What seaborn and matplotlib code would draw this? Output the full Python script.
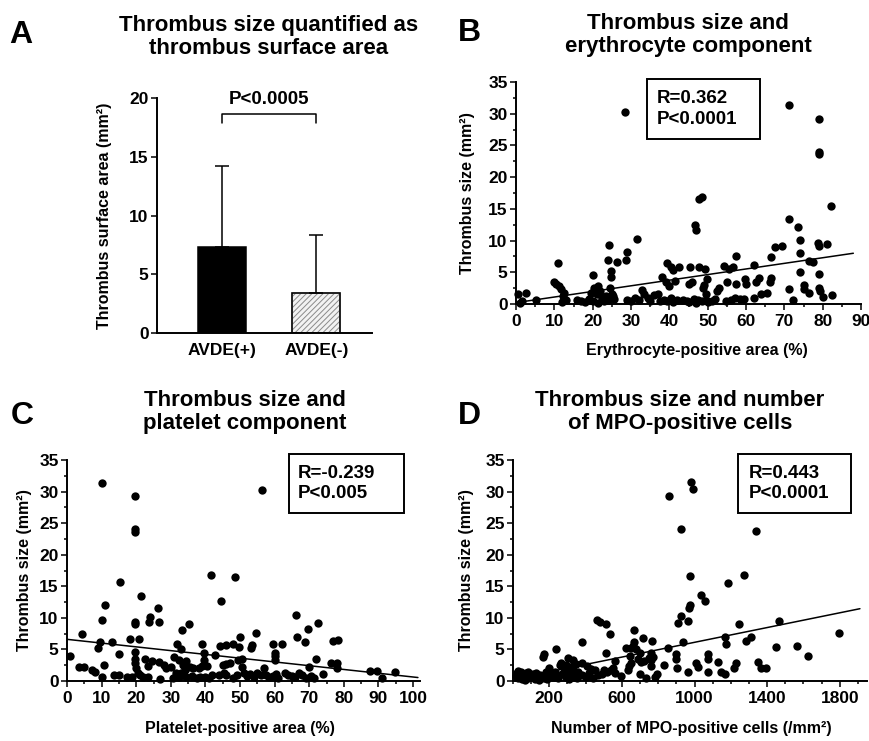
import numpy as np
import pandas as pd
import matplotlib
matplotlib.use('Agg')
import matplotlib.pyplot as plt
import seaborn as sns
from matplotlib.ticker import MultipleLocator, FixedLocator
from matplotlib.patches import Rectangle

# ---------------- dados ----------------
# Painel A: media e DP (somente barra superior)
a_groups = ['AVDE(+)', 'AVDE(-)']
a_means = [7.3, 3.4]
a_sd = [6.9, 4.9]
a_pvalue = 'P<0.0005'

# Painel B: area eritrocitaria (%) x tamanho do trombo (mm2)
b_x = [28.4, 71.3, 79, 79, 79, 82.3, 47.8, 48.5, 46.6, 46.9, 71.3, 73.5, 74, 74, 74, 78.9, 79, 81.2,
       67.5, 69.3, 66.5, 57.5, 31.5, 24.3, 29, 28.8, 26.4, 24, 24.7, 24.8, 11, 10, 20,
       0.5, 2.5, 1.5, 5.3, 1, 11.2, 11.8, 12.5, 12.3, 12, 13, 10.5,
       16, 17, 18, 19, 19.5, 20.3, 20.8, 21.5, 22, 21, 22.5, 23, 23.5, 24.5, 25, 25.5, 20, 21.5, 24, 25.3,
       29, 30, 31, 32, 32.8, 33.5, 34.5, 36, 37, 35, 38.5, 37.5,
       38, 39, 39.5, 40.5, 41, 42.5, 40, 41.5, 40.5, 42, 43.5, 44.5, 45, 39.5, 41,
       45.4, 47.8, 45.2, 46, 46.5, 47, 47.5, 48.5,
       49.2, 49.8, 49, 48.8, 49.5, 49.5, 50, 51, 52,
       53, 52.5, 54.3, 55.5, 56.5, 57.5, 55, 54.8, 56, 57, 58.5, 59.5,
       59.8, 60, 62, 62.5, 63.5, 62, 64, 65.5, 66.3, 66.5,
       71.2, 72.2, 75, 75, 76.5, 76.5, 77.5, 79, 79, 79.2, 80, 82.5]
b_y = [30.2, 31.3, 29.2, 24.0, 23.6, 15.5, 16.6, 16.8, 12.5, 11.6, 13.4, 12.2, 10.1, 8.0, 5.1, 9.6, 9.1, 9.4,
       9.0, 9.2, 7.4, 7.6, 10.3, 9.3, 8.2, 7.0, 6.6, 7.0, 5.2, 4.2, 6.4, 3.5, 4.5,
       1.5, 1.7, 0.4, 0.6, 0.2, 2.8, 2.3, 1.8, 1.2, 0.3, 0.6, 3.2,
       0.7, 0.5, 0.3, 0.8, 1.8, 2.5, 2.2, 2.8, 2.0, 1.5, 1.0, 0.5, 1.3, 2.5, 1.5, 0.8, 0.4, 0.2, 0.6, 1.2,
       0.6, 0.4, 0.9, 0.6, 2.2, 1.6, 1.0, 1.4, 1.6, 0.5, 0.7, 0.4,
       4.3, 3.4, 6.4, 5.8, 5.3, 5.8, 2.8, 3.6, 1.0, 0.6, 0.7, 0.4, 0.3, 0.5, 0.3,
       5.8, 5.8, 3.1, 3.5, 0.8, 0.2, 0.6, 0.5,
       5.5, 3.9, 3.0, 2.5, 1.6, 0.7, 0.3, 0.5, 0.8,
       2.6, 2.0, 6.0, 5.5, 5.8, 3.1, 3.5, 0.5, 0.6, 0.9, 0.8, 0.8,
       4.0, 3.2, 6.1, 3.5, 4.1, 1.0, 1.5, 1.8, 3.5, 4.1,
       2.4, 0.6, 3.0, 2.3, 1.7, 6.8, 6.6, 4.7, 2.6, 2.0, 1.1, 1.4]
b_fit_x = [0.4, 88]
b_fit_y = [0.25, 8.0]
b_stats = 'R=0.362\nP<0.0001'

# Painel C: area plaquetaria (%) x tamanho do trombo (mm2)
c_x = [10.1, 19.7, 19.7, 19.7, 56.3, 41.5, 48.4, 15.4, 44.6, 21.4, 10.9, 26.4, 10.1, 24, 23.6, 26.7, 19.7, 19.7,
       35.2, 66.2, 69.5, 72.6, 66.6, 68.8, 4.3, 33.2, 39.1, 18.1, 20.7, 13, 9.4, 9.1, 0.8, 15, 19.7, 19.7, 19.7,
       20, 22.5, 24.5, 23.5, 26.5, 28, 28.5, 30, 31.9, 33, 31, 32.5, 33.5, 34, 35.5, 34.5, 42.8, 39.5, 39.5,
       39, 40.5, 44.2, 45.9, 48, 49.7, 50, 54.5, 53.4, 53.1, 59.4, 62, 60.2, 60.2, 60.2, 71.9, 76.9, 78.3,
       76.3, 78, 78, 74, 87.5, 89.6, 91, 94.8, 3.4, 4.8, 7.2, 8.2, 10, 10.8, 13.5, 14.9, 17.3, 18.8, 23.4,
       45, 46, 47, 45.5, 44, 46, 48, 49, 49.5, 50.5, 50.5, 51, 52, 53, 54, 55, 56, 57, 57.5, 58.5, 59.5,
       60.5, 61, 63, 64, 65, 66, 67, 68, 69, 70, 70.5, 71.5, 30.5, 31.5, 32.5, 33, 34.5, 36, 37.5, 38.5,
       40, 41, 42, 27, 36.5, 38, 21, 22, 20.5]
c_y = [31.4, 29.3, 24.1, 23.6, 30.3, 16.8, 16.5, 15.6, 12.6, 13.5, 12.1, 11.5, 9.7, 10.2, 9.3, 9.4, 9.4, 9.0,
       9.1, 10.4, 8.2, 9.2, 7.0, 6.2, 7.4, 8.1, 5.8, 6.6, 6.6, 6.1, 6.2, 5.2, 4.0, 4.3, 4.6, 3.5, 2.8,
       2.0, 3.5, 3.2, 2.4, 3.0, 2.6, 2.0, 2.2, 5.9, 5.0, 3.8, 3.3, 2.6, 1.8, 2.2, 3.2, 4.1, 4.4, 3.4,
       2.3, 2.3, 5.6, 5.7, 5.8, 5.4, 7.0, 7.6, 5.7, 5.2, 5.8, 5.8, 4.4, 3.9, 3.3, 3.5, 6.3, 6.5,
       2.9, 2.8, 2.1, 1.1, 1.6, 1.6, 0.4, 1.4, 2.2, 2.2, 1.7, 1.5, 0.6, 2.5, 1.0, 1.0, 0.6, 0.6, 0.6,
       2.6, 2.7, 2.8, 1.2, 1.0, 0.9, 0.5, 1.0, 3.4, 3.5, 2.2, 1.3, 0.8, 1.1, 0.6, 1.3, 0.9, 2.1, 1.0, 0.6, 0.8,
       1.1, 0.5, 1.3, 1.0, 0.8, 0.6, 1.3, 0.9, 0.5, 2.2, 0.8, 0.4, 0.4, 1.2, 0.6, 1.3, 0.6, 0.8, 0.5, 0.7,
       0.6, 0.4, 1.0, 0.3, 2.0, 2.1, 1.0, 0.7, 1.3]
c_fit_x = [0, 101.4]
c_fit_y = [6.6, 0.55]
c_stats = 'R=-0.239\nP<0.005'

# Painel D: numero de celulas MPO+ (/mm2) x tamanho do trombo (mm2)
d_x = [862, 978, 991, 927, 1341, 977, 1273, 1184, 1034, 1056, 973, 969, 964, 927, 908, 462, 480, 513, 535,
       379, 237, 513, 669, 715, 765, 1797, 1565, 1626, 1446, 1464, 1309, 1282, 1245, 1166, 1175, 1230, 1217,
       1350, 1368, 1396, 1129, 1147, 1170, 1074, 1074, 1074, 1010, 1020, 964, 936, 899, 899, 905, 853, 831,
       794, 780, 761, 761, 761, 706, 697, 642, 651, 636, 596, 563, 541, 504, 660, 665, 680, 650, 700, 690,
       720, 730, 750, 770, 640, 620,
       302, 329, 348, 173, 164, 260, 280, 300, 320, 340, 360, 380, 400, 420, 440, 450, 470, 490, 520, 550, 560,
       20, 30, 40, 50, 60, 70, 80, 90, 100, 110, 120, 130, 140, 150, 160, 170, 180, 190, 200, 210, 220, 230,
       240, 250, 270, 290, 310, 330, 350, 15, 25, 45, 65, 85, 105, 125, 145, 190, 265, 290, 315, 380, 410, 430]
d_y = [29.3, 31.5, 30.4, 24.1, 23.7, 16.6, 16.8, 15.5, 13.6, 12.6, 12.1, 11.5, 9.5, 10.3, 9.2, 9.7, 9.4, 9.1, 7.4,
       6.1, 5.0, 4.5, 8.0, 6.8, 6.4, 7.6, 5.5, 4.0, 5.4, 9.5, 7.0, 6.3, 9.1, 7.0, 5.8, 2.9, 2.1,
       3.0, 2.1, 2.1, 3.0, 1.4, 1.1, 4.3, 3.5, 1.4, 2.8, 2.2, 1.5, 6.1, 4.2, 3.5, 2.0, 5.2, 2.5,
       1.1, 0.6, 4.4, 3.3, 2.3, 3.0, 1.1, 3.9, 2.8, 1.8, 0.8, 3.2, 1.8, 1.7, 5.5, 6.1, 5.0, 5.2, 4.5, 3.5,
       3.2, 0.4, 3.6, 3.8, 2.3, 5.3,
       3.6, 3.3, 2.7, 4.2, 3.8, 2.5, 2.0, 1.5, 1.0, 0.8, 1.5, 1.0, 0.6, 1.3, 0.5, 1.8, 0.9, 1.1, 1.4, 2.0, 1.2,
       1.3, 0.5, 1.0, 0.3, 0.8, 1.2, 0.4, 0.9, 0.6, 1.1, 0.3, 0.8, 0.5, 1.0, 0.7, 0.4, 1.5, 0.9, 2.0, 1.2, 0.6, 1.4,
       0.8, 0.4, 1.1, 0.7, 0.3, 1.8, 0.5, 0.8, 1.6, 1.5, 0.2, 1.4, 0.9, 1.3, 0.2, 0.3, 2.8, 2.6, 2.2, 2.8, 2.4, 1.9]
d_fit_x = [20, 1911]
d_fit_y = [0.4, 11.45]
d_stats = 'R=0.443\nP<0.0001'
d_xticks = [200, 600, 1000, 1400, 1800]

# ---------------- estilo ----------------
sns.set_style('ticks')
plt.rcParams['font.family'] = ['Liberation Sans', 'DejaVu Sans']
plt.rcParams.update({
    'font.weight': 'bold',
    'axes.labelweight': 'bold',
    'axes.edgecolor': 'black',
    'axes.linewidth': 1.4,
    'xtick.color': 'black',
    'ytick.color': 'black',
    'text.color': 'black',
    'axes.labelcolor': 'black',
    'xtick.labelsize': 12.5,
    'ytick.labelsize': 12.5,
    'xtick.major.width': 1.1,
    'ytick.major.width': 1.1,
    'xtick.minor.width': 1.1,
    'ytick.minor.width': 1.1,
    'xtick.major.size': 4,
    'ytick.major.size': 4,
    'xtick.minor.size': 2.5,
    'ytick.minor.size': 2.5,
    'hatch.linewidth': 0.7,
})

W, H = 869, 741
fig = plt.figure(figsize=(W / 100, H / 100), dpi=100)


def add_ax(left, top, right, bottom):
    return fig.add_axes([left / W, 1 - bottom / H, (right - left) / W, (bottom - top) / H])


def letra(x, y, s):
    fig.text(x / W, 1 - y / H, s, fontsize=23, weight='bold', va='baseline', ha='left')


def titulo(xc, ytop, s):
    fig.text(xc / W, 1 - ytop / H, s, fontsize=16, weight='bold', ha='center', va='top', linespacing=1.1)


def caixa(left, top, right, bottom, xtext, s):
    fig.add_artist(Rectangle((left / W, 1 - bottom / H), (right - left) / W, (bottom - top) / H,
                             transform=fig.transFigure, fill=True, fc='white', ec='black', lw=1.4, zorder=5))
    fig.text(xtext / W, 1 - (top + bottom) / 2 / H, s, fontsize=13.5, weight='bold',
             ha='left', va='center', linespacing=1.25, zorder=6)


def dispersao(ax, x, y, fit_x, fit_y):
    sns.scatterplot(x=x, y=y, ax=ax, color='black', s=36, linewidth=0, clip_on=False, zorder=3)
    sns.lineplot(x=fit_x, y=fit_y, ax=ax, color='black', lw=1.1, zorder=4)
    ax.set_ylim(0, 35)
    ax.yaxis.set_major_locator(MultipleLocator(5))
    ax.yaxis.set_minor_locator(MultipleLocator(2.5))
    ax.tick_params(axis='y', which='both', pad=2)
    ax.tick_params(axis='x', which='both', pad=3)
    sns.despine(ax=ax)
    ax.set_ylabel('Thrombus size (mm²)', fontsize=11.5)


# ---------------- Painel A ----------------
axA = add_ax(157, 98, 372, 333)
sns.barplot(x=a_groups, y=a_means, ax=axA, color='black', width=0.51, saturation=1,
            edgecolor='black', linewidth=1.1, errorbar=None)
pA = axA.patches[1]
pA.set_facecolor('#f2f2f2')
pA.set_edgecolor('#8a8a8a')
pA.set_hatch('//////')
axA.add_patch(Rectangle(pA.get_xy(), pA.get_width(), pA.get_height(), fill=False, ec='black', lw=1.1, zorder=3))
axA.errorbar(x=[0, 1], y=a_means, yerr=[[0, 0], a_sd], fmt='none', ecolor='black',
             elinewidth=1.1, capsize=5, capthick=1.1, zorder=4)
axA.plot([0, 0, 1, 1], [17.9, 18.6, 18.6, 17.9], color='black', lw=1.1, clip_on=False)
axA.text(0.5, 19.9, a_pvalue, ha='center', va='center', fontsize=13.5, weight='bold')
axA.set_xlim(-0.69, 1.59)
axA.set_ylim(0, 20)
axA.yaxis.set_major_locator(MultipleLocator(5))
axA.tick_params(axis='x', length=0, pad=7)
axA.tick_params(axis='y', pad=2)
sns.despine(ax=axA)
axA.set_ylabel('Thrombus surface area (mm²)', fontsize=11.5)
axA.yaxis.set_label_coords((112 - 157) / 215, 0.5)

# ---------------- Painel B ----------------
axB = add_ax(516, 82, 861, 304)
dispersao(axB, b_x, b_y, b_fit_x, b_fit_y)
axB.set_xlim(0, 90)
axB.xaxis.set_major_locator(MultipleLocator(10))
axB.xaxis.set_minor_locator(MultipleLocator(5))
axB.set_xlabel('Erythrocyte-positive area (%)', fontsize=11.5)
axB.yaxis.set_label_coords((475 - 516) / 345, 0.5)
axB.xaxis.set_label_coords(0.525, -(343 - 304) / 222)

# ---------------- Painel C ----------------
axC = add_ax(67, 460, 420, 681)
dispersao(axC, c_x, c_y, c_fit_x, c_fit_y)
axC.set_xlim(0, 102)
axC.xaxis.set_major_locator(MultipleLocator(10))
axC.xaxis.set_minor_locator(MultipleLocator(5))
axC.set_xlabel('Platelet-positive area (%)', fontsize=11.5)
axC.yaxis.set_label_coords((32 - 67) / 353, 0.5)
axC.xaxis.set_label_coords(0.49, -(721 - 681) / 221)

# ---------------- Painel D ----------------
axD = add_ax(513, 460, 867, 681)
dispersao(axD, d_x, d_y, d_fit_x, d_fit_y)
axD.set_xlim(0, 1950)
axD.xaxis.set_major_locator(FixedLocator(d_xticks))
axD.xaxis.set_minor_locator(MultipleLocator(100))
axD.set_xlabel('Number of MPO-positive cells (/mm²)', fontsize=11.5)
axD.yaxis.set_label_coords((474 - 513) / 354, 0.5)
axD.xaxis.set_label_coords(0.505, -(721 - 681) / 221)

# ---------------- titulos, letras e caixas ----------------
titulo(269, 15, 'Thrombus size quantified as\nthrombus surface area')
titulo(688, 13, 'Thrombus size and\nerythrocyte component')
titulo(245, 390, 'Thrombus size and\nplatelet component')
titulo(680, 390, 'Thrombus size and number\nof MPO-positive cells')

letra(9, 43, 'A')
letra(458, 41, 'B')
letra(11, 424, 'C')
letra(458, 424, 'D')

caixa(647, 79, 760, 139, 657, b_stats)
caixa(289, 454, 404, 513, 298, c_stats)
caixa(738, 454, 851, 513, 749, d_stats)

fig.savefig('out.png', dpi=100)
